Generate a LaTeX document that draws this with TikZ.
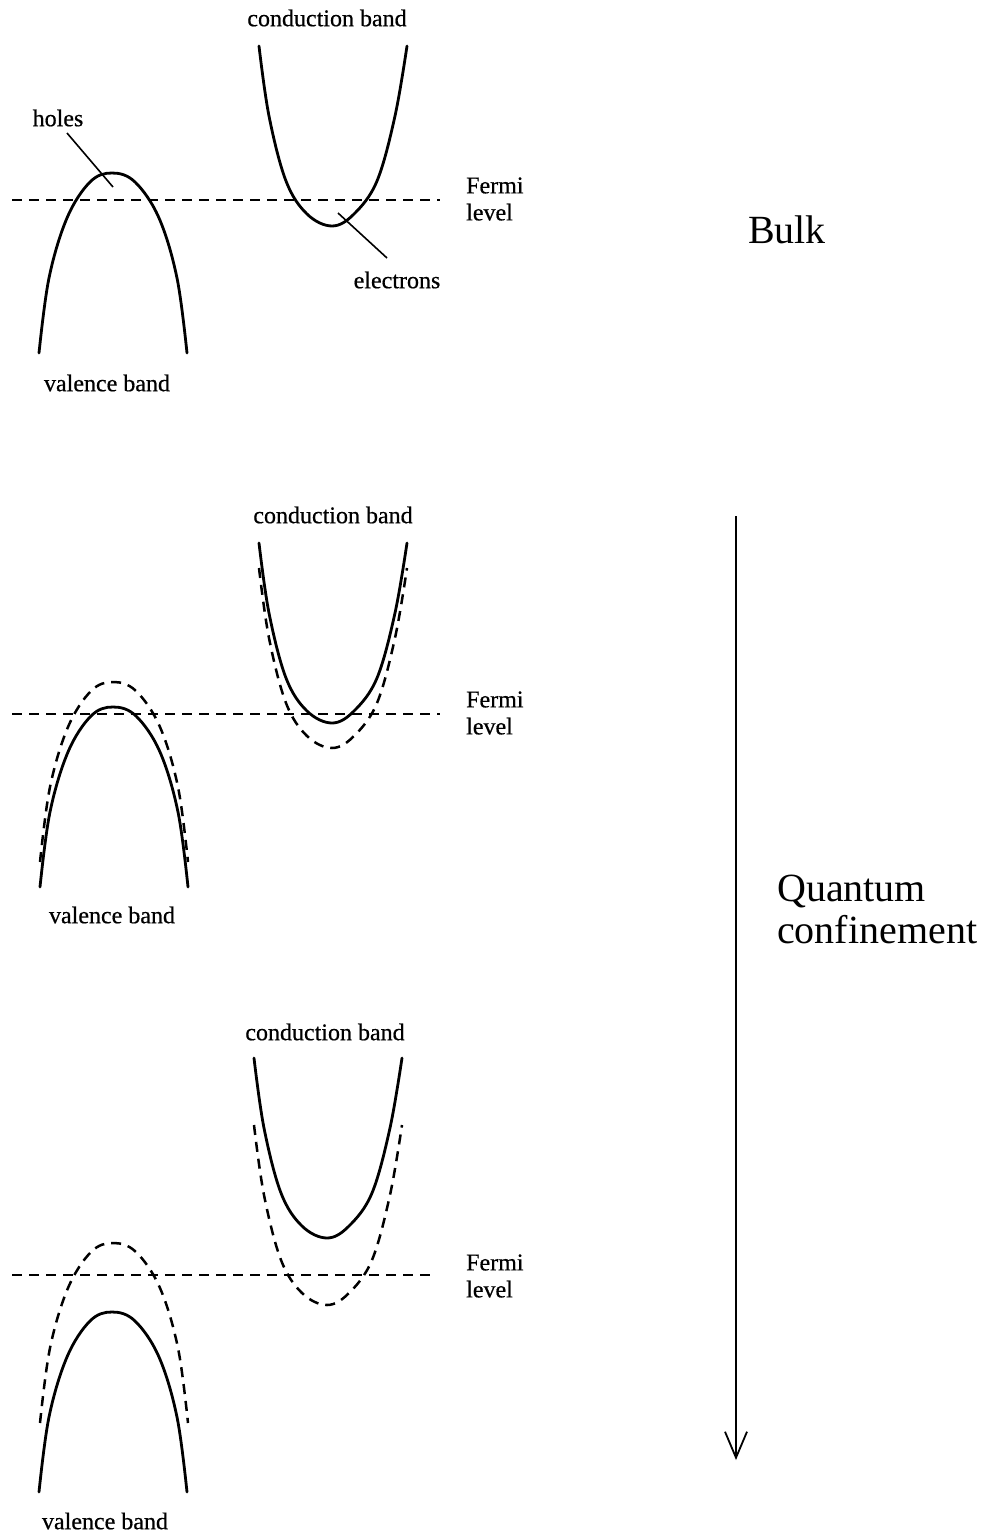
\documentclass[tikz,border=0pt]{standalone}
\usepackage{fontspec}
\setmainfont{Liberation Serif}
\usetikzlibrary{arrows.meta}
\begin{document}
\begin{tikzpicture}[x=1pt,y=-1pt,
  band/.style={line width=2.8pt,line join=round,line cap=round},
  dband/.style={line width=2.5pt,dash pattern=on 10pt off 7pt},
  fermiline/.style={line width=2.3pt,dash pattern=on 10pt off 7pt},
  leader/.style={line width=1.6pt},
  lbl/.style={font=\fontsize{24}{27}\selectfont\addfontfeature{FakeBold=0.6},inner sep=0pt},
  flbl/.style={font=\fontsize{24}{27}\selectfont\addfontfeature{FakeBold=0.6},inner sep=0pt,align=left,anchor=west},
  big/.style={font=\fontsize{40}{42}\selectfont,inner sep=0pt,align=left}]
\useasboundingbox (0,0) rectangle (992,1535);
\def\cbshape{plot[smooth,tension=0.6] coordinates {(-73,-180) (-63,-110) (-46,-45) (-25,-12) (0,0) (22,-12) (45,-45) (63,-110) (75,-180)}}
\def\vbshape{plot[smooth,tension=0.6] coordinates {(-73,180) (-63,105) (-45,45) (-22,9) (0,0) (23,9) (47,45) (65,105) (75,180)}}

% ---------- Panel 1: Bulk ----------
\node[lbl] (cb1) at (327,18) {conduction band};
\node[lbl] (vb1) at (107,383) {valence band};
\node[lbl] (holes) at (58,118) {holes};
\node[lbl] (elec) at (397,280) {electrons};
\node[flbl] (f1) at (466,199) {Fermi\\level};
\node[big] (bulk) at (787,230) {Bulk};
\coordinate (f1a) at (12,200);
\coordinate (f1b) at (440,200);
\draw[fermiline] (f1a) -- (f1b);
\draw[band,shift={(332,226)}] \cbshape;
\draw[band,shift={(112,173)}] \vbshape;
\coordinate (hT) at (113,187);
\coordinate (eT) at (338,213);
\draw[leader] (67,133) -- (hT);
\draw[leader] (387,258) -- (eT);

% ---------- Panel 2 ----------
\node[lbl] (cb2) at (333,515) {conduction band};
\node[lbl] (vb2) at (112,915) {valence band};
\node[flbl] (f2) at (466,713) {Fermi\\level};
\coordinate (f2a) at (12,714);
\coordinate (f2b) at (440,714);
\draw[fermiline] (f2a) -- (f2b);
\draw[band,shift={(332,723)}] \cbshape;
\draw[dband,shift={(332,748)}] \cbshape;
\draw[band,shift={(113,707)}] \vbshape;
\draw[dband,shift={(113,682)}] \vbshape;

% ---------- Panel 3 ----------
\node[lbl] (cb3) at (325,1032) {conduction band};
\node[lbl] (vb3) at (105,1521) {valence band};
\node[flbl] (f3) at (466,1276) {Fermi\\level};
\coordinate (f3a) at (12,1275);
\coordinate (f3b) at (432,1275);
\draw[fermiline] (f3a) -- (f3b);
\draw[band,shift={(327,1238)}] \cbshape;
\draw[dband,shift={(327,1305)}] \cbshape;
\draw[band,shift={(112,1312)}] \vbshape;
\draw[dband,shift={(113,1243)}] \vbshape;

% ---------- Arrow ----------
\node[big,anchor=west] (qc) at (777,909) {Quantum\\confinement};
\coordinate (arA) at (736,516);
\coordinate (arB) at (736,1460);
\draw[line width=1.8pt,-{Straight Barb[length=26pt,width=22pt,line width=1.8pt]}] (arA) -- (arB);
\end{tikzpicture}
\end{document}
